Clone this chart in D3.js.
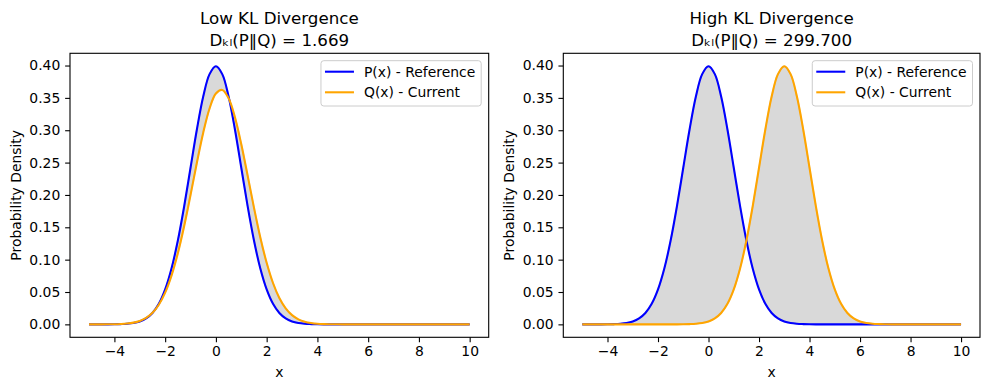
<!DOCTYPE html>
<html><head><meta charset="utf-8">
<script src="https://cdn.jsdelivr.net/npm/d3@7"></script>
<style>
body{margin:0;background:#fff;}
svg{display:block;font-family:"DejaVu Sans",sans-serif;}
</style></head>
<body><svg id="c" width="990" height="390"></svg>
<script>
// x grid
const xs = [-5,-4.75,-4.5,-4.25,-4,-3.75,-3.5,-3.25,-3,-2.75,-2.5,-2.25,-2,-1.75,-1.5,-1.25,-1,-0.75,-0.5,-0.25,
  0,0.25,0.5,0.75,1,1.25,1.5,1.75,2,2.25,2.5,2.75,3,3.25,3.5,3.75,4,4.25,4.5,4.75,
  5,5.25,5.5,5.75,6,6.25,6.5,6.75,7,7.25,7.5,7.75,8,8.25,8.5,8.75,9,9.25,9.5,9.75,10];
// P(x) reference (same in both panels)
const pRef = [0,0,0,0,0.0001,0.0004,0.0009,0.0020,0.0044,0.0091,0.0175,0.0317,0.0540,0.0863,0.1295,0.1826,0.2420,0.3011,0.3521,0.3867,
  0.3989,0.3867,0.3521,0.3011,0.2420,0.1826,0.1295,0.0863,0.0540,0.0317,0.0175,0.0091,0.0044,0.0020,0.0009,0.0004,0.0001,0,0,0,
  0,0,0,0,0,0,0,0,0,0,0,0,0,0,0,0,0,0,0,0,0];
// Q(x) current, low-divergence panel
const qLow = [0,0,0,0.0001,0.0002,0.0006,0.0013,0.0027,0.0053,0.0099,0.0178,0.0304,0.0491,0.0754,0.1099,0.1521,0.2000,0.2498,0.2962,0.3336,
  0.3567,0.3623,0.3494,0.3201,0.2784,0.2300,0.1804,0.1344,0.0951,0.0639,0.0408,0.0247,0.0142,0.0078,0.0040,0.0020,0.0009,0.0004,0.0002,0.0001,
  0,0,0,0,0,0,0,0,0,0,0,0,0,0,0,0,0,0,0,0,0];
// Q(x) current, high-divergence panel
const qHigh = [0,0,0,0,0,0,0,0,0,0,0,0,0,0,0,0,0.0001,0.0004,0.0009,0.0020,
  0.0044,0.0091,0.0175,0.0317,0.0540,0.0863,0.1295,0.1826,0.2420,0.3011,0.3521,0.3867,0.3989,0.3867,0.3521,0.3011,0.2420,0.1826,0.1295,0.0863,
  0.0540,0.0317,0.0175,0.0091,0.0044,0.0020,0.0009,0.0004,0.0001,0,0,0,0,0,0,0,0,0,0,0,0];
const titles = ["Low KL Divergence", "High KL Divergence"];
const klValues = ["1.669", "299.700"];
const legendLabels = ["P(x) - Reference", "Q(x) - Current"];
const xTicks = [-4,-2,0,2,4,6,8,10];
const yTicks = [0,0.05,0.10,0.15,0.20,0.25,0.30,0.35,0.40];

const svg = d3.select("#c");
const panels = [
  {left:70, right:488.7, q:qLow, title:titles[0], kl:klValues[0]},
  {left:563.3, right:980, q:qHigh, title:titles[1], kl:klValues[1]}
];
const plotTop = 53.3, plotBottom = 337.3;
const FS = 13.9, TFS = 16.7;

panels.forEach(p => {
  const x = d3.scaleLinear().domain([-5.75, 10.75]).range([p.left, p.right]);
  const y = d3.scaleLinear().domain([-0.02, 0.4189]).range([plotBottom, plotTop]);
  const g = svg.append("g");

  const data = xs.map((v,i)=>({x:v, p:pRef[i], q:p.q[i]}));
  // fill between
  const area = d3.area().curve(d3.curveCatmullRom)
    .x(d=>x(d.x)).y0(d=>y(d.p)).y1(d=>y(d.q));
  g.append("path").datum(data).attr("d", area)
    .attr("fill","#808080").attr("fill-opacity",0.3)
    .attr("stroke","#808080").attr("stroke-opacity",0.3).attr("stroke-width",1.4);

  const line = d3.line().curve(d3.curveCatmullRom).x(d=>x(d.x));
  g.append("path").datum(data).attr("d", line.y(d=>y(d.p)))
    .attr("fill","none").attr("stroke","#0000ff").attr("stroke-width",2.08);
  g.append("path").datum(data).attr("d", line.y(d=>y(d.q)))
    .attr("fill","none").attr("stroke","#ffa500").attr("stroke-width",2.08);

  // axes
  const xa = g.append("g").attr("transform",`translate(0,${plotBottom})`)
    .call(d3.axisBottom(x).tickValues(xTicks).tickSize(4.86).tickPadding(4.2).tickFormat(d3.format("d")));
  const ya = g.append("g").attr("transform",`translate(${p.left},0)`)
    .call(d3.axisLeft(y).tickValues(yTicks).tickSize(4.86).tickPadding(4.86).tickFormat(d3.format(".2f")));
  [xa,ya].forEach(a=>{
    a.select(".domain").remove();
    a.selectAll("line").attr("stroke","#000").attr("stroke-width",1.1);
    a.selectAll("text").attr("font-size",FS).attr("fill","#000").attr("font-family","DejaVu Sans");
  });
  g.append("rect").attr("x",p.left).attr("y",plotTop).attr("width",p.right-p.left).attr("height",plotBottom-plotTop)
    .attr("fill","none").attr("stroke","#000").attr("stroke-width",1.1);

  // labels
  const cx = (p.left+p.right)/2;
  g.append("text").attr("x",cx).attr("y",377).attr("text-anchor","middle").attr("font-size",FS).text("x");
  g.append("text").attr("transform",`translate(${p.left-49},${(plotTop+plotBottom)/2}) rotate(-90)`)
    .attr("text-anchor","middle").attr("font-size",FS).text("Probability Density");
  g.append("text").attr("x",cx).attr("y",24).attr("text-anchor","middle").attr("font-size",TFS).text(p.title);
  g.append("text").attr("x",cx).attr("y",45.5).attr("text-anchor","middle").attr("font-size",TFS)
    .text("D\u2096\u2097(P\u2016Q) = " + p.kl);

  // legend
  const lg = g.append("g");
  const boxR = p.right - 7.5;
  const texts = [];
  legendLabels.forEach((lab,i)=>{
    texts.push(lg.append("text").attr("font-size",FS).attr("y",0).text(lab));
  });
  const tw = d3.max(texts, t=>t.node().getComputedTextLength());
  const boxW = 4 + 29 + 10 + tw + 6;
  const boxL = boxR - boxW;
  lg.insert("rect",":first-child").attr("x",boxL).attr("y",60.7).attr("width",boxW).attr("height",45.3)
    .attr("rx",2.8).attr("fill","#fff").attr("fill-opacity",0.8).attr("stroke","#cccccc").attr("stroke-width",1);
  const cols = ["#0000ff","#ffa500"];
  const rowY = [71.7, 92.3];
  texts.forEach((t,i)=>{
    t.attr("x", boxL+4+29+10).attr("y", rowY[i]+5);
    lg.append("line").attr("x1",boxL+4).attr("x2",boxL+4+29).attr("y1",rowY[i]).attr("y2",rowY[i])
      .attr("stroke",cols[i]).attr("stroke-width",2.08);
  });
});
</script></body></html>
